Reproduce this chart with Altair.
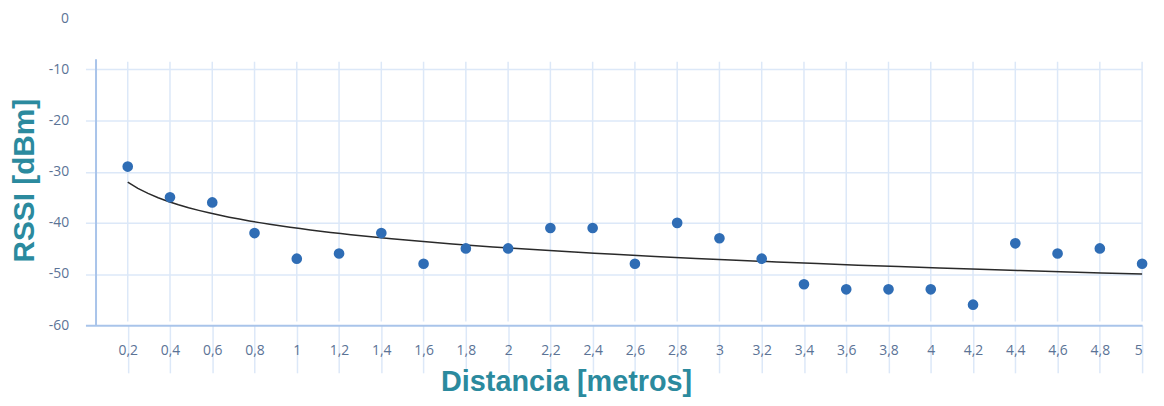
import altair as alt
import pandas as pd

distancia = [0.2, 0.4, 0.6, 0.8, 1.0, 1.2, 1.4, 1.6, 1.8, 2.0, 2.2, 2.4, 2.6,
             2.8, 3.0, 3.2, 3.4, 3.6, 3.8, 4.0, 4.2, 4.4, 4.6, 4.8, 5.0]
rssi = [-29, -35, -36, -42, -47, -46, -42, -48, -45, -45, -41, -41, -48,
        -40, -43, -47, -52, -53, -53, -53, -56, -44, -46, -45, -48]
x_ticks = [0.2, 0.4, 0.6, 0.8, 1.0, 1.2, 1.4, 1.6, 1.8, 2.0, 2.2, 2.4, 2.6,
           2.8, 3.0, 3.2, 3.4, 3.6, 3.8, 4.0, 4.2, 4.4, 4.6, 4.8, 5.0]
y_ticks = [0, -10, -20, -30, -40, -50, -60]
grid_top = -8.5
grid_bottom = -59.3
yaxis_x = [0.05]
yaxis_top = -8.0
yaxis_bottom = -60

df = pd.DataFrame({"d": distancia, "rssi": rssi})
grid_df = pd.DataFrame({"d": x_ticks, "top": [grid_top] * len(x_ticks),
                        "bottom": [grid_bottom] * len(x_ticks)})
yaxis_df = pd.DataFrame({"d": yaxis_x, "top": [yaxis_top], "bottom": [yaxis_bottom]})

teal = "#2b8a9e"
label_col = "#5b7396"
grid_col = "#dce8f8"
axis_col = "#a9c4ea"

x_scale = alt.Scale(domain=[0, 5], nice=False, zero=False)
y_scale = alt.Scale(domain=[-60, 0], nice=False)

x_enc = alt.X(
    "d:Q",
    scale=x_scale,
    axis=alt.Axis(
        values=x_ticks,
        labelExpr="replace(format(datum.value, '.1~f'), '.', ',')",
        title="Distancia [metros]",
        titleFont="Liberation Sans", titleFontSize=29, titleFontWeight="bold",
        titleColor=teal, titleX=484, titleY=57, titleBaseline="middle",
        titleAlign="center",
        labelFont="Open Sans", labelFontSize=14, labelColor=label_col,
        labelPadding=-22, labelBaseline="middle",
        tickColor=grid_col, tickSize=48, tickWidth=1.5,
        domainColor=axis_col, domainWidth=2,
        grid=False,
    ),
)
y_enc = alt.Y(
    "rssi:Q",
    scale=y_scale,
    axis=alt.Axis(
        values=y_ticks,
        labelExpr="datum.value == 0 ? '0' : '-' + abs(datum.value)",
        title="RSSI [dBm]",
        titleFont="Liberation Sans", titleFontSize=30, titleFontWeight="bold",
        titleColor=teal, titleX=-61, titleY=163, titleBaseline="middle",
        titleAlign="center",
        labelFont="Open Sans", labelFontSize=14, labelColor=label_col,
        labelPadding=17, ticks=False,
        domain=False,
        gridColor=grid_col, gridWidth=1.5,
        gridOpacity=alt.condition("datum.value == 0 || datum.value == -60",
                                  alt.value(0), alt.value(1)),
    ),
)

vgrid = alt.Chart(grid_df).mark_rule(color=grid_col, strokeWidth=1.5).encode(
    x=alt.X("d:Q", scale=x_scale),
    y=alt.Y("top:Q", scale=y_scale),
    y2="bottom:Q",
)

yaxis_line = alt.Chart(yaxis_df).mark_rule(color=axis_col, strokeWidth=2).encode(
    x=alt.X("d:Q", scale=x_scale),
    y=alt.Y("top:Q", scale=y_scale),
    y2="bottom:Q",
)

points = alt.Chart(df).mark_circle(size=115, color="#2f6db5", opacity=1).encode(
    x=x_enc, y=y_enc
)

trend = alt.Chart(df).transform_regression(
    "d", "rssi", method="log", extent=[0.2, 5]
).mark_line(color="#2a2a2a", strokeWidth=1.5).encode(
    x=alt.X("d:Q"), y=alt.Y("rssi:Q")
)

chart = alt.layer(vgrid, yaxis_line, trend, points).properties(
    width=1064, height=309,
    autosize=alt.AutoSizeParams(type="none"),
    padding={"left": 78, "top": 9, "right": 14, "bottom": 72},
).configure_view(stroke="transparent")

chart.save("out.html", embed_options={"renderer": "svg", "actions": False})
